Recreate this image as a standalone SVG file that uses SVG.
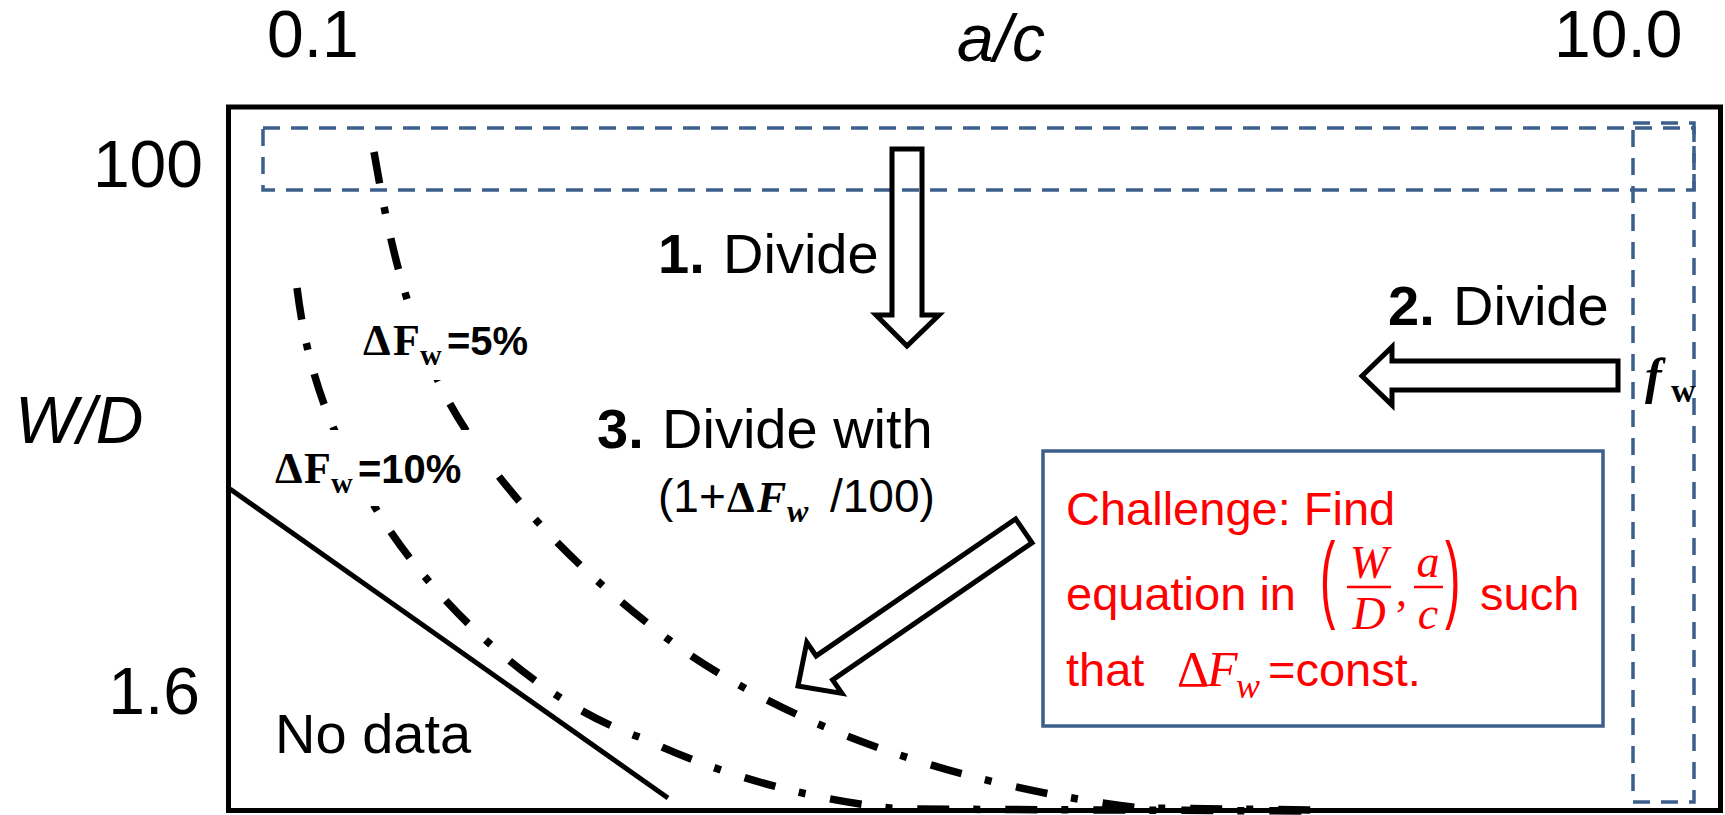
<svg xmlns="http://www.w3.org/2000/svg" width="1725" height="815" viewBox="0 0 1725 815">
<style>
.frame{fill:none;stroke:#000;stroke-width:5}
.blue{fill:none;stroke:#3C5F8C;stroke-width:3.5;stroke-dasharray:17 11}
.dd{fill:none;stroke:#000;stroke-width:7.5;stroke-dasharray:32 24 7 25}
.solid{fill:none;stroke:#000;stroke-width:5}
.arrow{fill:none;stroke:#000;stroke-width:5;stroke-linejoin:miter}
.t{font-family:"Liberation Sans",Arial,sans-serif;fill:#000}
.m{font-family:"Liberation Serif","Times New Roman",serif;fill:#000}
.red{fill:#FF0000}
.bar{stroke:#FF0000;stroke-width:2.5}
.bg{fill:#fff}
</style>
<rect width="1725" height="815" fill="#fff"/>
<g id="frame"><rect class="frame" x="228.5" y="107" width="1492" height="703.5"/></g>
<g id="axis-labels">
<text class="t" x="267" y="57" font-size="66">0.1</text>
<text class="t" x="957" y="61" font-size="66" font-style="italic">a/c</text>
<text class="t" x="1554" y="57" font-size="66">10.0</text>
<text class="t" x="203" y="187" font-size="66" text-anchor="end">100</text>
<text class="t" x="15" y="443" font-size="66" font-style="italic">W/D</text>
<text class="t" x="200" y="714" font-size="66" text-anchor="end">1.6</text>
</g>
<g id="region-top"><rect class="blue" x="263" y="128" width="1431" height="62"/></g>
<g id="region-right"><rect class="blue" x="1633" y="123" width="61" height="679"/></g>
<g id="curves">
<path id="nodata-line" class="solid" d="M230,489 L668,798"/>
<path id="curve-5" class="dd" d="M374,152 C385,215 400,300 440,385 C480,465 560,560 680,648 C790,725 950,785 1140,808 L1312,810"/>
<path id="curve-10" class="dd" d="M297,288 C305,350 320,420 378,512 C425,590 530,700 642,738 C720,775 810,800 900,809 L1312,811"/>
</g>
<g id="label-5">
<rect class="bg" x="360" y="302" width="175" height="78"/>
<text class="m" y="355" font-size="44" font-weight="bold"><tspan x="363">Δ</tspan><tspan x="393">F</tspan></text>
<text class="m" x="420" y="365" font-size="30" font-weight="bold">w</text>
<text class="t" x="447" y="355" font-size="40" font-weight="bold">=5%</text>
</g>
<g id="label-10">
<rect class="bg" x="268" y="430" width="219" height="76"/>
<text class="m" y="483" font-size="44" font-weight="bold"><tspan x="275">Δ</tspan><tspan x="304">F</tspan></text>
<text class="m" x="331" y="493" font-size="30" font-weight="bold">w</text>
<text class="t" x="358" y="483" font-size="40" font-weight="bold">=10%</text>
</g>
<g id="label-nodata"><text class="t" x="275" y="753" font-size="56">No data</text></g>
<g id="step1"><text class="t" x="658" y="273" font-size="56"><tspan font-weight="bold">1.</tspan><tspan x="723">Divide</tspan></text></g>
<g id="step2"><text class="t" x="1388" y="325" font-size="56"><tspan font-weight="bold">2.</tspan><tspan x="1453">Divide</tspan></text></g>
<g id="step3">
<text class="t" x="597" y="448" font-size="56"><tspan font-weight="bold">3.</tspan><tspan x="662">Divide with</tspan></text>
<text class="t" x="658" y="512" font-size="46">(1+</text>
<text class="m" x="727" y="512" font-size="44" font-weight="bold">Δ</text>
<text class="m" x="757" y="512" font-size="44" font-weight="bold" font-style="italic">F</text>
<text class="m" x="787" y="522" font-size="32" font-weight="bold" font-style="italic">w</text>
<text class="t" x="830" y="512" font-size="46">/100)</text>
</g>
<g id="fw-label">
<text class="m" x="1645" y="393" font-size="50" font-weight="bold" font-style="italic">f</text>
<text class="m" x="1671" y="402" font-size="34" font-weight="bold">w</text>
</g>
<g id="challenge">
<rect x="1043" y="451" width="560" height="275" fill="#fff" stroke="#3C5F8C" stroke-width="3.5"/>
<text class="t red" x="1066" y="525" font-size="47">Challenge: Find</text>
<text class="t red" x="1066" y="610" font-size="47">equation in</text>
<text class="t red" transform="translate(1320,610) scale(1,2.1)" font-size="46">(</text>
<text class="m red" x="1369" y="578" font-size="46" font-style="italic" text-anchor="middle">W</text>
<line class="bar" x1="1347" y1="587" x2="1391" y2="587"/>
<text class="m red" x="1369" y="629" font-size="46" font-style="italic" text-anchor="middle">D</text>
<text class="m red" x="1396" y="606" font-size="44">,</text>
<text class="m red" x="1428" y="577" font-size="46" font-style="italic" text-anchor="middle">a</text>
<line class="bar" x1="1414" y1="587" x2="1443" y2="587"/>
<text class="m red" x="1428" y="629" font-size="46" font-style="italic" text-anchor="middle">c</text>
<text class="t red" transform="translate(1445,610) scale(1,2.1)" font-size="46">)</text>
<text class="t red" x="1480" y="610" font-size="47">such</text>
<text class="t red" x="1066" y="686" font-size="47">that</text>
<text class="m red" x="1177" y="686" font-size="50">Δ</text>
<text class="m red" x="1207" y="686" font-size="50" font-style="italic">F</text>
<text class="m red" x="1236" y="698" font-size="36" font-style="italic">w</text>
<text class="t red" x="1268" y="686" font-size="47">=const.</text>
</g>
<g id="connectors">
<polygon id="arrow-1" class="arrow" points="892,149 922,149 922,315 939,315 907,346 876,315 892,315"/>
<polygon id="arrow-2" class="arrow" points="1362,376 1392,347 1392,361 1618,361 1618,390 1392,390 1392,405"/>
<polygon id="arrow-3" class="arrow" transform="translate(798,686) rotate(145.5)" points="0,0 -32,-31 -32,-14.5 -274,-14.5 -274,14.5 -32,14.5 -32,31"/>
</g>
</svg>
